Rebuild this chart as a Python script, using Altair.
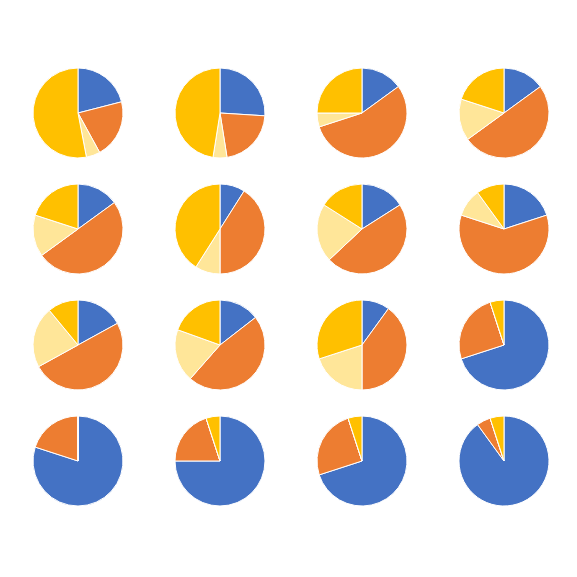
import altair as alt
import pandas as pd

categories = ["Blue", "Orange", "Light yellow", "Gold"]
colors = ["#4472C4", "#ED7D31", "#FFE699", "#FFC000"]

# one value per pie, reading row by row (left to right)
blue = [21, 26, 15, 15, 15, 9, 16, 20, 17, 14.5, 10, 70, 80, 75, 70, 90]
orange = [21, 21.5, 55, 50, 50, 41, 47, 60, 50, 47, 40, 25, 20, 20, 25, 5]
light_yellow = [5, 5, 5, 15, 15, 9, 21, 10, 22, 19, 20, 0, 0, 0, 0, 0]
gold = [53, 47.5, 25, 20, 20, 41, 16, 10, 11, 19.5, 30, 5, 0, 5, 5, 5]

series = [blue, orange, light_yellow, gold]
rows = []
for p in range(16):
    for k, cat in enumerate(categories):
        rows.append({"pie": p, "cat": cat, "order": k, "value": series[k][p]})
df = pd.DataFrame(rows)


def pie(p):
    return alt.Chart(df).transform_filter(alt.datum.pie == p).mark_arc(
        stroke="white", strokeWidth=1, outerRadius=45
    ).encode(
        theta=alt.Theta("value:Q", stack=True),
        color=alt.Color("cat:N", scale=alt.Scale(domain=categories, range=colors), legend=None),
        order=alt.Order("order:Q", sort="ascending"),
    ).properties(width=100, height=100)


grid_rows = [alt.hconcat(*[pie(r * 4 + c) for c in range(4)], spacing=42) for r in range(4)]

chart = alt.vconcat(*grid_rows, spacing=16).properties(
    padding={"left": 20, "top": 55, "right": 5, "bottom": 5}
).configure_view(strokeWidth=0)

chart.save("out.html", embed_options={"renderer": "svg", "actions": False})
